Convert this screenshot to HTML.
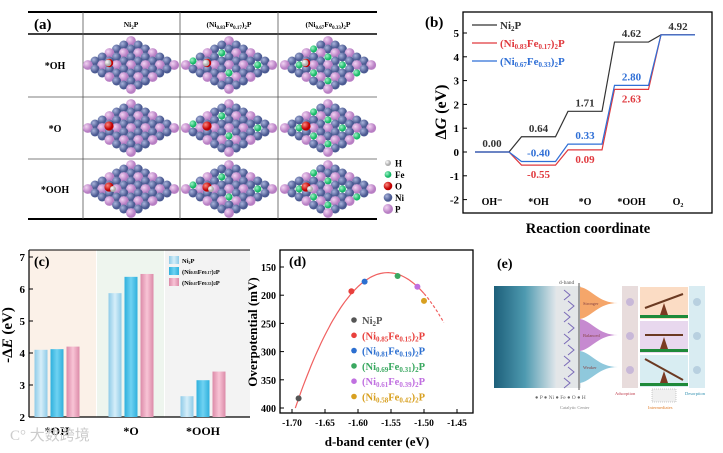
<!DOCTYPE html>
<html><head><meta charset="utf-8"><style>
body{margin:0;width:723px;height:453px;background:#fff;overflow:hidden;font-family:"Liberation Serif",serif}
svg{position:absolute;left:0;top:0}
text{font-family:"Liberation Serif",serif}
</style></head><body>
<svg id="s" width="723" height="453" xmlns="http://www.w3.org/2000/svg">
<defs>
<radialGradient id="gNi" cx="35%" cy="35%"><stop offset="0" stop-color="#aab4dc"/><stop offset="1" stop-color="#4b5a92"/></radialGradient>
<radialGradient id="gP" cx="35%" cy="35%"><stop offset="0" stop-color="#f3d4f3"/><stop offset="1" stop-color="#b87fc4"/></radialGradient>
<radialGradient id="gFe" cx="35%" cy="35%"><stop offset="0" stop-color="#a0f5c8"/><stop offset="1" stop-color="#18b868"/></radialGradient>
<radialGradient id="gO" cx="35%" cy="35%"><stop offset="0" stop-color="#ff8a80"/><stop offset="1" stop-color="#c00000"/></radialGradient>
<radialGradient id="gH" cx="35%" cy="35%"><stop offset="0" stop-color="#fff"/><stop offset="1" stop-color="#aaa"/></radialGradient>
<linearGradient id="gWave" x1="0" x2="1"><stop offset="0" stop-color="#1d5f7a"/><stop offset="0.5" stop-color="#4e9ab0"/><stop offset="1" stop-color="#e0e6ea"/></linearGradient>
<linearGradient id="bar1" x1="0" x2="1"><stop offset="0" stop-color="#8fcbe8"/><stop offset="0.5" stop-color="#d5eef9"/><stop offset="1" stop-color="#8fcbe8"/></linearGradient>
<linearGradient id="bar2" x1="0" x2="1"><stop offset="0" stop-color="#2fb0dc"/><stop offset="0.5" stop-color="#6fd2f2"/><stop offset="1" stop-color="#2fb0dc"/></linearGradient>
<linearGradient id="bar3" x1="0" x2="1"><stop offset="0" stop-color="#dc8aa8"/><stop offset="0.5" stop-color="#f8c4d6"/><stop offset="1" stop-color="#dc8aa8"/></linearGradient>
</defs>
<g id="pa"></g>
<g id="pb"></g>
<g id="pc"></g>
<g id="pd"></g>
<g id="pe"></g>
<text x="10" y="440" font-size="15" fill="#ccc" font-family="'Liberation Sans','Noto Sans CJK SC',sans-serif">C° 大数跨境</text>
</svg>
<script>
// ---------- Panel b data ----------
const bCats=["OH⁻","*OH","*O","*OOH","O₂"];
const bNi2P=[0,0.64,1.71,4.62,4.92];
const bFe17=[0,-0.55,0.09,2.63,4.92];
const bFe33=[0,-0.40,0.33,2.80,4.92];
const bTicks=[5,4,3,2,1,0,-1,-2];
// ---------- Panel c data ----------
const cCats=["*OH","*O","*OOH"];
const cNi2P=[4.10,5.87,2.65];
const cFe17=[4.12,6.38,3.15];
const cFe33=[4.20,6.47,3.42];
const cTicks=[2,3,4,5,6,7];
// ---------- Panel d data ----------
const dX=[-1.69,-1.61,-1.59,-1.54,-1.51,-1.50];
const dY=[383,193,176,166,185,210];
const dLabels=["Ni₂P","(Ni0.85Fe0.15)2P","(Ni0.81Fe0.19)2P","(Ni0.69Fe0.31)2P","(Ni0.61Fe0.39)2P","(Ni0.58Fe0.42)2P"];
const dXTicks=[-1.70,-1.65,-1.60,-1.55,-1.50,-1.45];
const dYTicks=[150,200,250,300,350,400];
const dFit=[-1.555,160,12250]; // vertex x, vertex y, curvature

const NS="http://www.w3.org/2000/svg";
function mk(p,tag,at,txt){const e=document.createElementNS(NS,tag);for(const k in at)e.setAttribute(k,at[k]);if(txt!==undefined)e.textContent=txt;p.appendChild(e);return e;}

// ================= Panel a =================
const pa=document.getElementById('pa');
mk(pa,'line',{x1:28,y1:12,x2:377,y2:12,stroke:'#000','stroke-width':2});
mk(pa,'line',{x1:28,y1:34,x2:377,y2:34,stroke:'#000','stroke-width':1.5});
mk(pa,'line',{x1:28,y1:97,x2:377,y2:97,stroke:'#555','stroke-width':0.8});
mk(pa,'line',{x1:28,y1:159,x2:377,y2:159,stroke:'#555','stroke-width':0.8});
mk(pa,'line',{x1:28,y1:219,x2:377,y2:219,stroke:'#000','stroke-width':2});
[83,180,278].forEach(x=>mk(pa,'line',{x1:x,y1:12,x2:x,y2:219,stroke:'#555','stroke-width':0.8}));
let t=mk(pa,'text',{x:34,y:29,'font-size':15,'font-weight':'bold'},'(a)');

const heads=[[131,'Ni<tspan font-size="5" dy="2">2</tspan><tspan dy="-2">P</tspan>'],[229,'(Ni<tspan font-size="5" dy="2">0.83</tspan><tspan dy="-2">Fe</tspan><tspan font-size="5" dy="2">0.17</tspan><tspan dy="-2">)</tspan><tspan font-size="5" dy="2">2</tspan><tspan dy="-2">P</tspan>'],[328,'(Ni<tspan font-size="5" dy="2">0.67</tspan><tspan dy="-2">Fe</tspan><tspan font-size="5" dy="2">0.33</tspan><tspan dy="-2">)</tspan><tspan font-size="5" dy="2">2</tspan><tspan dy="-2">P</tspan>']];
heads.forEach(h=>{const e=mk(pa,'text',{x:h[0],y:27,'font-size':7.5,'font-weight':'bold','text-anchor':'middle'});e.innerHTML=h[1];});
const rows=[['*OH',65,'OH'],['*O',128,'O'],['*OOH',189,'OOH']];
rows.forEach(r=>{const e=mk(pa,'text',{x:55,y:r[1]+4,'font-size':10,'font-weight':'bold','text-anchor':'middle'},r[0]);});
function slab(cx,cy,fe,ads){
  const g=mk(pa,'g',{});
  
  const N=7;
  for(let i=0;i<N;i++)for(let j=0;j<N;j++){
    const x=cx+(i-j)*7.2, y=cy+(i+j-(N-1))*4.0;
    let f='url(#gNi)';let r=4.5;
    if((i+j)%3==0){f='url(#gP)';r=4.9;}
    if(fe&&((fe==1&&(i*3+j)%11==5)||(fe==2&&(i*3+j)%6==2))){f='url(#gFe)';r=3.6;}
    mk(g,'circle',{cx:x,cy:y,r:r,fill:f});
  }
  const ax=cx-22,ay=cy-2;
  if(ads=='OH'){mk(g,'circle',{cx:ax,cy:ay,r:4.2,fill:'url(#gO)'});mk(g,'circle',{cx:ax-1,cy:ay,r:3.4,fill:'url(#gH)'});}
  if(ads=='O'){mk(g,'circle',{cx:ax,cy:ay,r:4.6,fill:'url(#gO)'});}
  if(ads=='OOH'){mk(g,'circle',{cx:ax,cy:ay,r:4.6,fill:'url(#gO)'});mk(g,'circle',{cx:ax+4,cy:ay+2,r:3,fill:'url(#gH)'});}
}
[131,229,328].forEach((cx,ci)=>rows.forEach(r=>slab(cx,r[1],ci,r[2])));
[['H','url(#gH)',3],['Fe','url(#gFe)',3.4],['O','url(#gO)',4.3],['Ni','url(#gNi)',4.3],['P','url(#gP)',5]].forEach((l,i)=>{
  const y=163+i*11.5;
  const c=mk(pa,'circle',{cx:388,cy:y,r:l[2],fill:l[1]});
  const e=mk(pa,'text',{x:395,y:y+3.5,'font-size':9,'font-weight':'bold'},l[0]);
});

// ================= Panel b =================
const pb=document.getElementById('pb');
const bL=463,bR=712,bT=12,bB=213;
const by=v=>152-23.8*v;
const bx=i=>492+i*46.5;
mk(pb,'rect',{x:bL,y:bT,width:bR-bL,height:bB-bT,fill:'none',stroke:'#000','stroke-width':1.3});
bTicks.forEach(v=>{
  mk(pb,'line',{x1:bL,y1:by(v),x2:bL+4,y2:by(v),stroke:'#000'});
  const e=mk(pb,'text',{x:bL-4,y:by(v)+4,'font-size':11,'font-weight':'bold','text-anchor':'end'},String(v));
  
});
bCats.forEach((c,i)=>{const e=mk(pb,'text',{x:bx(i),y:205,'font-size':10,'font-weight':'bold','text-anchor':'middle'},c);});
let e2=mk(pb,'text',{x:588,y:233,'font-size':14.5,'font-weight':'bold','text-anchor':'middle'},'Reaction coordinate');
e2=mk(pb,'text',{x:0,y:0,'font-size':16,'font-weight':'bold','text-anchor':'middle',transform:'translate(446,112) rotate(-90)'});e2.innerHTML='Δ<tspan font-style="italic">G</tspan> (eV)';
e2=mk(pb,'text',{x:425,y:27,'font-size':15,'font-weight':'bold'},'(b)');
function energyPath(vals,col,name){
  let d='';vals.forEach((v,i)=>{const x0=bx(i)-17,x1=bx(i)+17;d+=(i?'L':'M')+x0+' '+by(v)+' L'+x1+' '+by(v)+' ';});
  const p=mk(pb,'path',{d:d,fill:'none',stroke:col,'stroke-width':1.2});
}
energyPath(bNi2P,'#333','series-ni2p');
energyPath(bFe17,'#e0393e','series-fe017');
energyPath(bFe33,'#2f6fd6','series-fe033');
function lab(v,i,col,dy){const e=mk(pb,'text',{x:bx(i),y:by(v)+dy,'font-size':11,'font-weight':'bold','text-anchor':'middle',fill:col},v.toFixed(2));}
bNi2P.forEach((v,i)=>{if(i<4)lab(v,i,'#333',-5);});
lab(bNi2P[4],4,'#333',-5);
bFe17.forEach((v,i)=>{if(i>0&&i<4)lab(v,i,'#e0393e',13);});
bFe33.forEach((v,i)=>{if(i>0&&i<4)lab(v,i,'#2f6fd6',-5);});
[['Ni<tspan font-size="7" dy="2">2</tspan><tspan dy="-2">P</tspan>','#333',25],['(Ni<tspan font-size="7" dy="2">0.83</tspan><tspan dy="-2">Fe</tspan><tspan font-size="7" dy="2">0.17</tspan><tspan dy="-2">)</tspan><tspan font-size="7" dy="2">2</tspan><tspan dy="-2">P</tspan>','#e0393e',43],['(Ni<tspan font-size="7" dy="2">0.67</tspan><tspan dy="-2">Fe</tspan><tspan font-size="7" dy="2">0.33</tspan><tspan dy="-2">)</tspan><tspan font-size="7" dy="2">2</tspan><tspan dy="-2">P</tspan>','#2f6fd6',61]].forEach(l=>{
  mk(pb,'line',{x1:472,y1:l[2],x2:497,y2:l[2],stroke:l[1],'stroke-width':1.2});
  const e=mk(pb,'text',{x:500,y:l[2]+4,'font-size':11,'font-weight':'bold',fill:l[1]});e.innerHTML=l[0];
});

// ================= Panel c =================
const pc=document.getElementById('pc');
const cy=v=>417-32*(v-2);
mk(pc,'rect',{x:29,y:250,width:67,height:167,fill:'#fbf1e8'});
mk(pc,'rect',{x:97,y:250,width:67,height:167,fill:'#eef5ee'});
mk(pc,'rect',{x:165,y:250,width:85,height:167,fill:'#f3f3f3'});
mk(pc,'line',{x1:29,y1:250,x2:29,y2:417,stroke:'#000','stroke-width':1.2});
mk(pc,'line',{x1:29,y1:417,x2:250,y2:417,stroke:'#000','stroke-width':1.2});
mk(pc,'line',{x1:29,y1:250,x2:250,y2:250,stroke:'#000','stroke-width':1});
cTicks.forEach(v=>{mk(pc,'line',{x1:29,y1:cy(v),x2:33,y2:cy(v),stroke:'#000'});const e=mk(pc,'text',{x:25,y:cy(v)+4,'font-size':11,'font-weight':'bold','text-anchor':'end'},String(v));});
const cCenters=[57,131,203];
const series=[[cNi2P,'url(#bar1)',-16],[cFe17,'url(#bar2)',0],[cFe33,'url(#bar3)',16]];
series.forEach((s,si)=>s[0].forEach((v,i)=>{
  const r=mk(pc,'rect',{x:cCenters[i]+s[2]-6.5,y:cy(v),width:13,height:417-cy(v),fill:s[1]});
  
}));
cCats.forEach((c,i)=>{const e=mk(pc,'text',{x:cCenters[i],y:435,'font-size':12,'font-weight':'bold','text-anchor':'middle'},c);});
e2=mk(pc,'text',{x:0,y:0,'font-size':15,'font-weight':'bold','text-anchor':'middle',transform:'translate(12,335) rotate(-90)'});e2.innerHTML='-Δ<tspan font-style="italic">E</tspan> (eV)';
e2=mk(pc,'text',{x:34,y:266,'font-size':14,'font-weight':'bold'},'(c)');
[['Ni<tspan font-size="4" dy="1">2</tspan><tspan dy="-1">P</tspan>','url(#bar1)',256],['(Ni<tspan font-size="4">0.83</tspan>Fe<tspan font-size="4">0.17</tspan>)<tspan font-size="4">2</tspan>P','url(#bar2)',267],['(Ni<tspan font-size="4">0.67</tspan>Fe<tspan font-size="4">0.33</tspan>)<tspan font-size="4">2</tspan>P','url(#bar3)',278]].forEach(l=>{
  mk(pc,'rect',{x:169,y:l[2],width:10,height:8,fill:l[1]});
  const e=mk(pc,'text',{x:182,y:l[2]+7,'font-size':6.5,'font-weight':'bold'});e.innerHTML=l[0];
});

// ================= Panel d =================
const pd=document.getElementById('pd');
const dL=280,dR=473,dT=250,dB=413;
const dx=v=>292+(v+1.70)/0.05*33;
const dy=v=>267+(v-150)/50*28.2;
mk(pd,'rect',{x:dL,y:dT,width:dR-dL,height:dB-dT,fill:'none',stroke:'#000','stroke-width':1.3});
dXTicks.forEach(v=>{mk(pd,'line',{x1:dx(v),y1:dB,x2:dx(v),y2:dB-4,stroke:'#000'});const e=mk(pd,'text',{x:dx(v),y:dB+13,'font-size':9.5,'font-weight':'bold','text-anchor':'middle'},v.toFixed(2));});
dYTicks.forEach(v=>{mk(pd,'line',{x1:dL,y1:dy(v),x2:dL+4,y2:dy(v),stroke:'#000'});const e=mk(pd,'text',{x:dL-4,y:dy(v)+4,'font-size':10,'font-weight':'bold','text-anchor':'end'},String(v));});
let fd='';for(let x=-1.695;x<=-1.50;x+=0.003){fd+=(fd?'L':'M')+dx(x).toFixed(1)+' '+dy(dFit[1]+dFit[2]*(x-dFit[0])**2).toFixed(1)+' ';}
let fp=mk(pd,'path',{d:fd,fill:'none',stroke:'#f06060','stroke-width':1.2});
fd='';for(let x=-1.50;x<=-1.47;x+=0.003){fd+=(fd?'L':'M')+dx(x).toFixed(1)+' '+dy(dFit[1]+dFit[2]*(x-dFit[0])**2).toFixed(1)+' ';}
fp=mk(pd,'path',{d:fd,fill:'none',stroke:'#f06060','stroke-width':1.2,'stroke-dasharray':'3,2'});
const dCols=['#555','#e8403c','#2c6fd0','#3aa860','#c070e0','#d8a020'];
dX.forEach((v,i)=>{const c=mk(pd,'circle',{cx:dx(v),cy:dy(dY[i]),r:3,fill:dCols[i]});});
dLabels.forEach((l,i)=>{
  const y=320+i*15.3;
  mk(pd,'circle',{cx:354,cy:y,r:2.8,fill:dCols[i]});
  const e=mk(pd,'text',{x:362,y:y+4,'font-size':10.5,'font-weight':'bold',fill:dCols[i]});
  if(i==0)e.innerHTML='Ni<tspan font-size="7" dy="2">2</tspan><tspan dy="-2">P</tspan>';
  else{const m=l.match(/\(Ni([\d.]+)Fe([\d.]+)\)2P/);e.innerHTML='(Ni<tspan font-size="7" dy="2">'+m[1]+'</tspan><tspan dy="-2">Fe</tspan><tspan font-size="7" dy="2">'+m[2]+'</tspan><tspan dy="-2">)</tspan><tspan font-size="7" dy="2">2</tspan><tspan dy="-2">P</tspan>';}
  
});
e2=mk(pd,'text',{x:377,y:446,'font-size':13,'font-weight':'bold','text-anchor':'middle'},'d-band center (eV)');
e2=mk(pd,'text',{x:0,y:0,'font-size':13,'font-weight':'bold','text-anchor':'middle',transform:'translate(257,332) rotate(-90)'},'Overpotential (mV)');
e2=mk(pd,'text',{x:289,y:266,'font-size':14,'font-weight':'bold'},'(d)');

// ================= Panel e =================
const pe=document.getElementById('pe');
e2=mk(pe,'text',{x:497,y:268,'font-size':14,'font-weight':'bold'},'(e)');
mk(pe,'rect',{x:494,y:286,width:62,height:102,fill:'url(#gWave)'});
mk(pe,'rect',{x:556,y:286,width:25,height:102,fill:'#e3e6e8'});
for(let k=0;k<9;k++){mk(pe,'path',{d:`M${564+(k%2)*4} ${290+k*11} l6 5 l-6 5`,fill:'none',stroke:'#7a6ab8','stroke-width':1});}
mk(pe,'line',{x1:579,y1:283,x2:579,y2:390,stroke:'#555','stroke-width':1});
mk(pe,'text',{x:559,y:284,'font-size':5.5,fill:'#555','font-family':'Liberation Sans,sans-serif'},'d-band');
[['Stronger','#f5a66a',303],['Balanced','#c68ad0',335],['Weaker','#8fc8dc',367]].forEach(p=>{
  const g=mk(pe,'path',{d:`M580 ${p[2]-16} C592 ${p[2]-14} 598 ${p[2]} 618 ${p[2]} C598 ${p[2]} 592 ${p[2]+14} 580 ${p[2]+16} Z`,fill:p[1]});
  
  mk(pe,'text',{x:583,y:p[2]+2,'font-size':4.5,fill:'#844','font-family':'Liberation Sans,sans-serif'},p[0]);
});
mk(pe,'rect',{x:622,y:286,width:16,height:102,fill:'#e8dcdc'});
mk(pe,'rect',{x:689,y:286,width:16,height:102,fill:'#d9ecf2'});
[['#fbdcc4',286],['#e8d8ee',320],['#d8edf2',354]].forEach((r,i)=>{
  mk(pe,'rect',{x:640,y:r[1]+1,width:48,height:32,fill:r[0]});
  mk(pe,'rect',{x:640,y:r[1]+29,width:48,height:3,fill:'#1e8a3a'});
  mk(pe,'line',{x1:645,y1:r[1]+(i==0?22:i==1?15:5),x2:683,y2:r[1]+(i==0?8:i==1?15:26),stroke:'#6b3a22','stroke-width':2});
  mk(pe,'path',{d:`M660 ${r[1]+29} l4 -12 l4 12 Z`,fill:'#7a3a22'});
  mk(pe,'circle',{cx:630,cy:r[1]+16,r:4,fill:'#c8b8d8'});
  mk(pe,'circle',{cx:697,cy:r[1]+16,r:4,fill:'#b8d0e0'});
});
mk(pe,'text',{x:535,y:399,'font-size':5.5,fill:'#666','font-family':'Liberation Sans,sans-serif'},'● P ● Ni ● Fe ● O ● H');
mk(pe,'text',{x:560,y:409,'font-size':4.5,fill:'#888','font-family':'Liberation Sans,sans-serif'},'Catalytic Center');
mk(pe,'text',{x:615,y:395,'font-size':4.5,fill:'#c04050','font-family':'Liberation Sans,sans-serif'},'Adsorption');
mk(pe,'text',{x:685,y:395,'font-size':4.5,fill:'#3090b0','font-family':'Liberation Sans,sans-serif'},'Desorption');
mk(pe,'rect',{x:652,y:389,width:24,height:13,fill:'#f0f0f0',stroke:'#999','stroke-width':0.5,'stroke-dasharray':'1,1'});
mk(pe,'text',{x:648,y:409,'font-size':4.5,fill:'#e08030','font-family':'Liberation Sans,sans-serif'},'Intermediates');
</script>
</body></html>
